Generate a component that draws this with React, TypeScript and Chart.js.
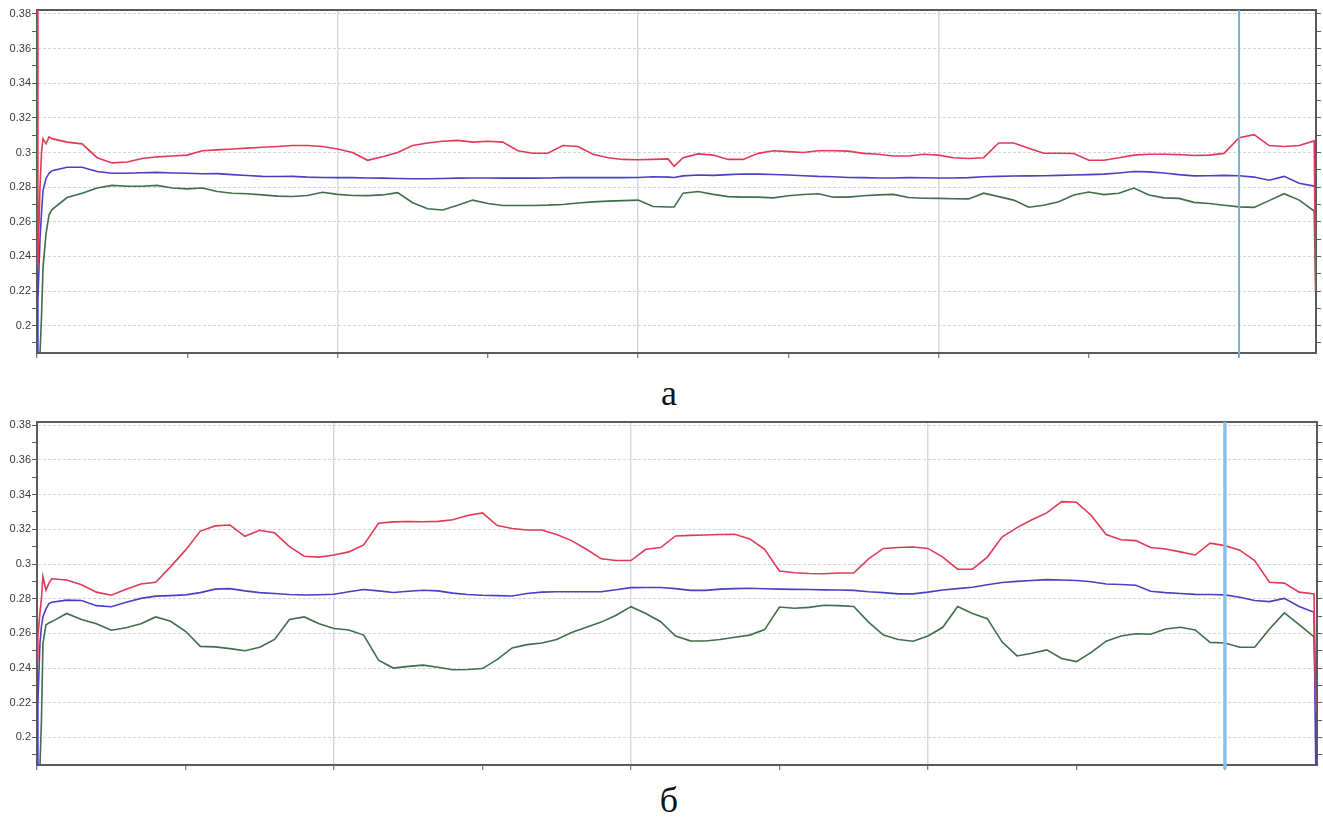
import React, { useEffect, useRef } from "react";
import { Chart, registerables } from "chart.js";

Chart.register(...registerables);

// ---------- shared axis data ----------
const Y_TICKS = [0.19, 0.2, 0.21, 0.22, 0.23, 0.24, 0.25, 0.26, 0.27, 0.28, 0.29, 0.3, 0.31, 0.32, 0.33, 0.34, 0.35, 0.36, 0.37, 0.38];
const X_TICKS = [0, 0.5, 1, 1.5, 2, 2.5, 3, 3.5, 4];
const CURSOR_X = 4;

// ---------- panel "а" ----------
const X_A = [
  0, 0.003, 0.01, 0.015, 0.02, 0.03, 0.04, 0.05,
  0.1, 0.15, 0.2, 0.25, 0.3, 0.35, 0.4, 0.45, 0.5, 0.55,
  0.6, 0.65, 0.7, 0.75, 0.8, 0.85, 0.9, 0.95, 1.0, 1.05,
  1.1, 1.15, 1.2, 1.25, 1.3, 1.35, 1.4, 1.45, 1.5, 1.55,
  1.6, 1.65, 1.7, 1.75, 1.8, 1.85, 1.9, 1.95, 2.0, 2.05,
  2.1, 2.12, 2.15, 2.2, 2.25, 2.3, 2.35, 2.4, 2.45, 2.5,
  2.55, 2.6, 2.65, 2.7, 2.75, 2.8, 2.85, 2.9, 2.95, 3.0,
  3.05, 3.1, 3.15, 3.2, 3.25, 3.3, 3.35, 3.4, 3.45, 3.5,
  3.55, 3.6, 3.65, 3.7, 3.75, 3.8, 3.85, 3.9, 3.95, 4.0,
  4.05, 4.1, 4.15, 4.2, 4.25, 4.255,
];
const RED_A = [
  0.40, 0.235, 0.28, 0.30, 0.308, 0.305, 0.309, 0.308,
  0.306, 0.305, 0.297, 0.294, 0.2945, 0.2965, 0.2975, 0.298, 0.2985, 0.301,
  0.3015, 0.302, 0.3025, 0.303, 0.3035, 0.304, 0.304, 0.3035, 0.302, 0.300,
  0.2955, 0.2975, 0.300, 0.304, 0.3055, 0.3065, 0.307, 0.306, 0.3065, 0.306,
  0.301, 0.2996, 0.2996, 0.304, 0.3035, 0.299, 0.297, 0.296, 0.2958, 0.296,
  0.2963, 0.292, 0.297, 0.2992, 0.2985, 0.296, 0.296, 0.2995, 0.301, 0.3005,
  0.300, 0.301, 0.301, 0.3008, 0.2995, 0.299, 0.298, 0.298, 0.299, 0.2985,
  0.297, 0.2965, 0.297, 0.3055, 0.3055, 0.3025, 0.2996, 0.2996, 0.2994, 0.2955,
  0.2955, 0.297, 0.2985, 0.299, 0.299, 0.2988, 0.2983, 0.2985, 0.2995, 0.3085,
  0.3103, 0.304, 0.3035, 0.304, 0.3067, 0.22,
];
const BLUE_A = [
  0.184, 0.215, 0.25, 0.265, 0.278, 0.285, 0.288, 0.2895,
  0.2915, 0.2915, 0.289, 0.288, 0.288, 0.2883, 0.2885, 0.2882, 0.288, 0.2877,
  0.2878, 0.2872, 0.2867, 0.2862, 0.2861, 0.2862, 0.2858, 0.2856, 0.2855, 0.2855,
  0.2853, 0.2852, 0.285, 0.2848, 0.2848, 0.285, 0.2852, 0.2853, 0.2853, 0.2852,
  0.2852, 0.2852, 0.2853, 0.2855, 0.2855, 0.2855, 0.2855, 0.2855, 0.2856, 0.286,
  0.2858, 0.2856, 0.2865, 0.287, 0.2868, 0.2872, 0.2876, 0.2875, 0.2873, 0.287,
  0.2866, 0.2862, 0.286, 0.2856, 0.2855, 0.2853, 0.2853, 0.2855, 0.2854, 0.2853,
  0.2853, 0.2855, 0.286, 0.2862, 0.2864, 0.2865, 0.2866, 0.2868, 0.287, 0.2872,
  0.2875, 0.2882, 0.289, 0.2888, 0.2882, 0.2872, 0.2865, 0.2866, 0.2868, 0.2866,
  0.2858, 0.284, 0.2862, 0.2822, 0.2806, 0.2804,
];
const GREEN_A = [
  0.184, 0.184, 0.184, 0.205, 0.2335, 0.253, 0.264, 0.267,
  0.274, 0.2765, 0.2795, 0.281, 0.2805, 0.2805, 0.281, 0.2795, 0.279, 0.2795,
  0.2775, 0.2765, 0.2762, 0.2755, 0.2748, 0.2746, 0.2752, 0.277, 0.2758, 0.2752,
  0.2751, 0.2755, 0.2768, 0.271, 0.2675, 0.2668, 0.2695, 0.2725, 0.2705, 0.2694,
  0.2694, 0.2694, 0.2696, 0.270, 0.2708, 0.2715, 0.2719, 0.2722, 0.2725, 0.2688,
  0.2685, 0.2685, 0.2765, 0.2775, 0.2758, 0.2745, 0.2742, 0.2742, 0.2738, 0.275,
  0.2757, 0.2762, 0.2742, 0.2742, 0.275, 0.2755, 0.2758, 0.274, 0.2736, 0.2735,
  0.2733, 0.2732, 0.2765, 0.2745, 0.2725, 0.2684, 0.2695, 0.2715, 0.2755, 0.2772,
  0.2757, 0.2765, 0.2795, 0.2755, 0.2738, 0.2735, 0.2712, 0.2705, 0.2695, 0.2686,
  0.2683, 0.2722, 0.2762, 0.2725, 0.2662, 0.22,
];

// ---------- panel "б" ----------
const X_B = [
  0, 0.003, 0.01, 0.015, 0.02, 0.03, 0.04, 0.05,
  0.1, 0.15, 0.2, 0.25, 0.3, 0.35, 0.4, 0.45, 0.5, 0.55,
  0.6, 0.65, 0.7, 0.75, 0.8, 0.85, 0.9, 0.95, 1.0, 1.05,
  1.1, 1.15, 1.2, 1.25, 1.3, 1.35, 1.4, 1.45, 1.5, 1.55,
  1.6, 1.65, 1.7, 1.75, 1.8, 1.85, 1.9, 1.95, 2.0, 2.05,
  2.1, 2.15, 2.2, 2.25, 2.3, 2.35, 2.4, 2.45, 2.5, 2.55,
  2.6, 2.65, 2.7, 2.75, 2.8, 2.85, 2.9, 2.95, 3.0, 3.05,
  3.1, 3.15, 3.2, 3.25, 3.3, 3.35, 3.4, 3.45, 3.5, 3.55,
  3.6, 3.65, 3.7, 3.75, 3.8, 3.85, 3.9, 3.95, 4.0, 4.05,
  4.1, 4.15, 4.2, 4.25, 4.3, 4.306,
];
const RED_B = [
  0.245, 0.258, 0.272, 0.280, 0.2927, 0.285, 0.289, 0.2915,
  0.2908, 0.288, 0.2838, 0.282, 0.2855, 0.2885, 0.2895, 0.2985, 0.308, 0.319,
  0.322, 0.3225, 0.316, 0.3195, 0.318, 0.31, 0.3045, 0.304, 0.3052, 0.307,
  0.311, 0.3235, 0.3243, 0.3245, 0.3244, 0.3246, 0.3255, 0.328, 0.3295, 0.3222,
  0.3205, 0.3196, 0.3196, 0.317, 0.3135, 0.3085, 0.303, 0.302, 0.302, 0.3085,
  0.3095, 0.3162, 0.3165, 0.3167, 0.317, 0.3172, 0.3145, 0.3085, 0.296, 0.295,
  0.2945, 0.2944, 0.2948, 0.2948, 0.303, 0.309, 0.3095, 0.3098, 0.309, 0.304,
  0.297, 0.297, 0.304, 0.3157, 0.321, 0.3255, 0.3295, 0.336, 0.3356, 0.328,
  0.317, 0.314, 0.3135, 0.3095, 0.3087, 0.307, 0.3052, 0.312, 0.3106, 0.308,
  0.302, 0.2895, 0.289, 0.2838, 0.2827, 0.215,
];
const BLUE_B = [
  0.184, 0.22, 0.2545, 0.264, 0.2696, 0.274, 0.2772, 0.278,
  0.2792, 0.279, 0.276, 0.2754, 0.278, 0.2802, 0.2815, 0.2818, 0.2822, 0.2835,
  0.2855, 0.2858, 0.2845, 0.2835, 0.283, 0.2824, 0.2821, 0.2823, 0.2826, 0.284,
  0.2853, 0.2845, 0.2836, 0.2843, 0.2849, 0.2845, 0.2832, 0.2824, 0.282, 0.2818,
  0.2816, 0.283, 0.2838, 0.284, 0.284, 0.284, 0.284, 0.2852, 0.2864, 0.2865,
  0.2865, 0.2858, 0.2848, 0.2848, 0.2855, 0.2858, 0.286, 0.2857, 0.2855, 0.2854,
  0.2853, 0.2851, 0.285, 0.2848, 0.284, 0.2835, 0.2828, 0.2828, 0.2838, 0.285,
  0.2858, 0.2866, 0.288, 0.2893, 0.29, 0.2905, 0.291, 0.2908, 0.2905, 0.2898,
  0.2885, 0.2882, 0.2878, 0.2843, 0.2835, 0.283, 0.2825, 0.2824, 0.2822, 0.2808,
  0.279, 0.2783, 0.2802, 0.2755, 0.2722, 0.18,
];
const GREEN_B = [
  0.184, 0.184, 0.184, 0.21, 0.2543, 0.2649, 0.266, 0.2668,
  0.2715, 0.268, 0.2655, 0.2618, 0.2632, 0.2655, 0.2695, 0.267, 0.2612, 0.2525,
  0.2522, 0.2512, 0.25, 0.252, 0.2565, 0.268, 0.2695, 0.2655, 0.2628, 0.262,
  0.259, 0.2445, 0.24, 0.241, 0.2417, 0.2405, 0.239, 0.2392, 0.2397, 0.245,
  0.2516, 0.2535, 0.2545, 0.2565, 0.2605, 0.2635, 0.2665, 0.2705, 0.2754, 0.2715,
  0.2667, 0.2585, 0.2557, 0.2556, 0.2565, 0.2578, 0.259, 0.2622, 0.2752, 0.2745,
  0.275, 0.2762, 0.276, 0.2755, 0.2665, 0.259, 0.2565, 0.2555, 0.2585, 0.2635,
  0.2755, 0.2715, 0.2685, 0.255, 0.247, 0.2485, 0.2505, 0.2455, 0.2437, 0.249,
  0.2555, 0.2585, 0.2598, 0.2595, 0.2625, 0.2635, 0.262, 0.2548, 0.2545, 0.252,
  0.252, 0.2625, 0.2718, 0.265, 0.258, 0.215,
];

// ---------- styles ----------
const RED = "#e23a55";
const BLUE = "#4b3fc4";
const GREEN = "#3e6f48";
const AXIS = "#5a5a5a";
const GRID_H = "#d3d3dc";
const GRID_V = "#d9d9e2";
const TEXT = "#3a3a3a";
const NONE = "rgba(0,0,0,0)";

const fmt = (v: number) => String(Number(v.toFixed(2)));
const isMajor = (v: number) => Math.round(v * 100) % 2 === 0;

const cursorPlugin = {
  id: "cursor",
  afterDatasetsDraw(chart: any, _args: any, opts: any) {
    const { ctx, chartArea } = chart;
    const px = chart.scales.x.getPixelForValue(opts.value);
    ctx.save();
    ctx.strokeStyle = opts.color;
    ctx.lineWidth = opts.width;
    ctx.beginPath();
    ctx.moveTo(px, chartArea.top);
    ctx.lineTo(px, chartArea.bottom + 4);
    ctx.stroke();
    ctx.restore();
  },
};

type PanelProps = {
  xs: number[];
  red: number[];
  blue: number[];
  green: number[];
  xMax: number;
  yMin: number;
  yMax: number;
  padTop: number;
  axisH: number;
  rightW: number;
  cursorW: number;
  cursorColor: string;
  top: number;
  height: number;
};

function Panel(p: PanelProps) {
  const ref = useRef<HTMLCanvasElement>(null);
  useEffect(() => {
    const toPts = (ys: number[]) => p.xs.map((x, i) => ({ x, y: ys[i] }));
    const yTicks = (s: any) => {
      s.ticks = Y_TICKS.map((v) => ({ value: v }));
    };
    const ds = (label: string, ys: number[], color: string) => ({
      label,
      data: toPts(ys),
      borderColor: color,
      backgroundColor: color,
      borderWidth: 1.6,
      pointRadius: 0,
      tension: 0,
      fill: false,
    });
    const chart = new Chart(ref.current as HTMLCanvasElement, {
      type: "line",
      data: {
        datasets: [ds("red", p.red, RED), ds("blue", p.blue, BLUE), ds("green", p.green, GREEN)],
      },
      plugins: [cursorPlugin],
      options: {
        animation: false,
        responsive: false,
        layout: { padding: { top: p.padTop, left: 0, right: 0, bottom: 0 } },
        plugins: {
          legend: { display: false },
          tooltip: { enabled: false },
          cursor: { value: CURSOR_X, color: p.cursorColor, width: p.cursorW },
        } as any,
        scales: {
          x: {
            type: "linear",
            position: "bottom",
            min: 0,
            max: p.xMax,
            afterBuildTicks: (s: any) => {
              s.ticks = X_TICKS.map((v) => ({ value: v }));
            },
            afterFit: (s: any) => {
              s.height = p.axisH;
            },
            ticks: { display: false },
            grid: {
              color: (c: any) => {
                const v = c.tick ? c.tick.value : 0;
                return v === 1 || v === 2 || v === 3 ? GRID_V : NONE;
              },
              lineWidth: 1.5,
              tickLength: 5,
              tickColor: AXIS,
              tickWidth: 1,
            },
            border: { color: AXIS, width: 2 },
          },
          x2: {
            type: "linear",
            position: "top",
            min: 0,
            max: p.xMax,
            afterFit: (s: any) => {
              s.height = 0;
            },
            ticks: { display: false },
            grid: { display: false },
            border: { color: AXIS, width: 2 },
          },
          y: {
            type: "linear",
            position: "left",
            min: p.yMin,
            max: p.yMax,
            afterBuildTicks: yTicks,
            afterFit: (s: any) => {
              s.width = 37;
            },
            ticks: {
              autoSkip: false,
              padding: 1,
              color: TEXT,
              font: { family: "'Liberation Sans', Arial, sans-serif", size: 11 },
              callback: (v: any) => (isMajor(Number(v)) ? fmt(Number(v)) : ""),
            },
            grid: {
              color: (c: any) => (c.tick && isMajor(c.tick.value) ? GRID_H : NONE),
              lineWidth: 1,
              tickLength: 5,
              tickColor: AXIS,
              tickWidth: 1,
            },
            border: { color: AXIS, width: 2, dash: [3, 2] },
          },
          y2: {
            type: "linear",
            position: "right",
            min: p.yMin,
            max: p.yMax,
            afterBuildTicks: yTicks,
            afterFit: (s: any) => {
              s.width = p.rightW;
            },
            ticks: { display: false },
            grid: { drawOnChartArea: false, tickLength: 5, tickColor: AXIS, tickWidth: 1 },
            border: { color: AXIS, width: 2 },
          },
        },
      } as any,
    });
    return () => chart.destroy();
  }, []);
  return (
    <canvas
      ref={ref}
      width={1323}
      height={p.height}
      style={{ position: "absolute", left: 0, top: p.top, display: "block" }}
    />
  );
}

const captionStyle = (top: number): React.CSSProperties => ({
  position: "absolute",
  top,
  left: 669,
  transform: "translateX(-50%)",
  fontFamily: "'Liberation Serif', 'Times New Roman', serif",
  fontSize: 36,
  lineHeight: 1,
  color: "#111",
});

export default function App() {
  return (
    <div
      style={{
        position: "absolute",
        left: 0,
        top: 0,
        width: 1323,
        height: 818,
        background: "#fff",
        overflow: "hidden",
      }}
    >
      <Panel
        xs={X_A}
        red={RED_A}
        blue={BLUE_A}
        green={GREEN_A}
        xMax={4.256}
        yMin={0.1842}
        yMax={0.3823}
        padTop={10}
        axisH={17}
        rightW={7}
        cursorW={2}
        cursorColor="#6fb0df"
        top={0}
        height={370}
      />
      <div style={captionStyle(375)}>а</div>
      <Panel
        xs={X_B}
        red={RED_B}
        blue={BLUE_B}
        green={GREEN_B}
        xMax={4.31}
        yMin={0.1841}
        yMax={0.3819}
        padTop={12}
        axisH={15}
        rightW={6}
        cursorW={3.5}
        cursorColor="#8cc0e8"
        top={410}
        height={370}
      />
      <div style={captionStyle(782)}>б</div>
    </div>
  );
}
